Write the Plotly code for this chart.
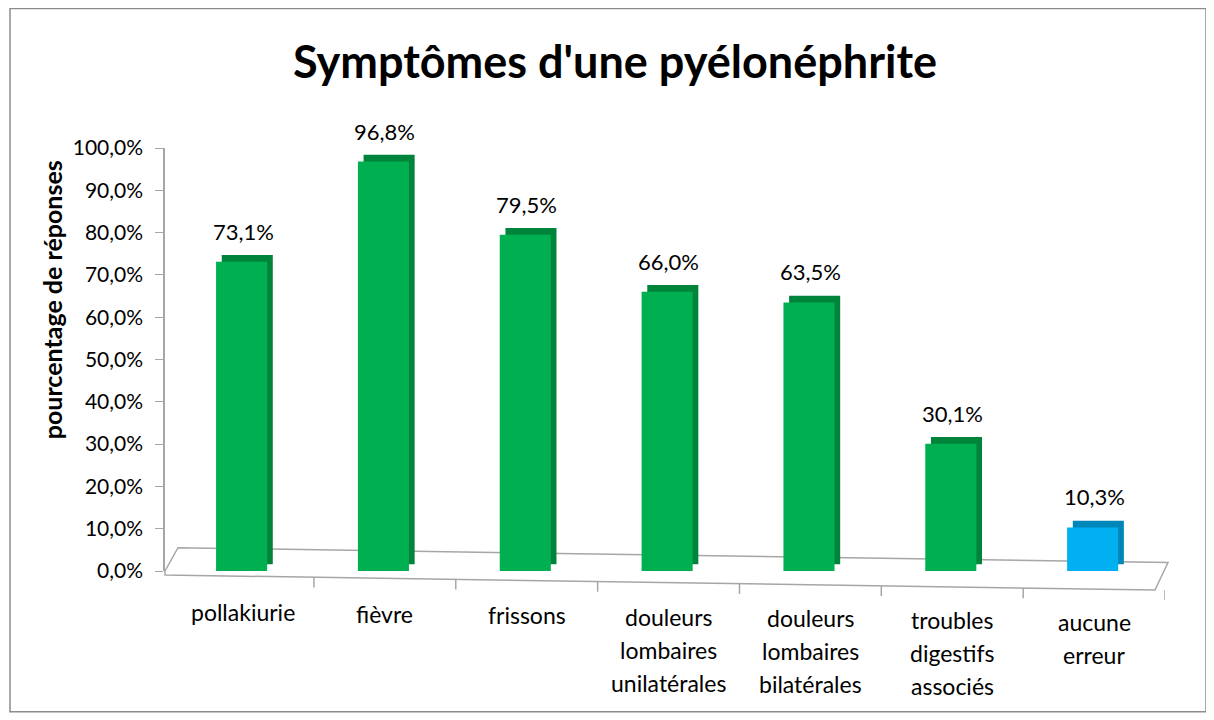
import plotly.graph_objects as go

categories = ["pollakiurie", "fièvre", "frissons",
              "douleurs<br>lombaires<br>unilatérales",
              "douleurs<br>lombaires<br>bilatérales",
              "troubles<br>digestifs<br>associés",
              "aucune<br>erreur"]
values = [0.731, 0.968, 0.795, 0.660, 0.635, 0.301, 0.103]
colors = ["#00b050"] * 6 + ["#00b0f0"]
side_colors = ["#00843c"] * 6 + ["#0086b8"]
tick_vals = [i / 10 for i in range(11)]

font = "Lato, 'Open Sans', sans-serif"
x_idx = list(range(len(categories)))
x_range = [-0.55, 6.5]

fig = go.Figure()
# darker back face gives the pseudo-3D look
fig.add_trace(go.Bar(x=x_idx, y=values, base=0.016, width=0.36, offset=-0.15,
                     marker=dict(color=side_colors, line_width=0),
                     hoverinfo="skip", showlegend=False))
fig.add_trace(go.Bar(x=x_idx, y=values, width=0.36, offset=-0.19,
                     marker=dict(color=colors, line_width=0),
                     showlegend=False))

for i, v in enumerate(values):
    fig.add_annotation(x=i, y=v, text=f"{v * 100:.1f}%".replace(".", ","),
                       showarrow=False, yanchor="bottom", yshift=15,
                       font=dict(size=22, color="#000000", family=font))

# category labels, one annotation per line for Excel-like line spacing
for i, cat in enumerate(categories):
    for j, line in enumerate(cat.split("<br>")):
        fig.add_annotation(x=i, y=0, yref="paper", text=line, showarrow=False,
                           yanchor="middle", yshift=-41 - 1.6 * i - 33 * j,
                           font=dict(size=23, color="#000000", family=font))

# y axis title, placed high like in the original
fig.add_annotation(x=-0.113, y=0.64, xref="paper", yref="paper", textangle=-90,
                   text="<b>pourcentage de réponses</b>", showarrow=False,
                   xanchor="center", yanchor="middle",
                   font=dict(size=25, color="#000000", family=font))


def front_edge(xd):
    xp = (xd - x_range[0]) / (x_range[1] - x_range[0])
    return -0.0095 - xp * 0.0355 / 0.99


# floor outline
fig.add_shape(type="path", xref="paper", yref="paper",
              path="M 0,0 L 0.013,0.055 L 1.003,0.02 L 0.99,-0.045 L 0,-0.0095 Z",
              line=dict(color="#a6a6a6", width=1.5), fillcolor="rgba(0,0,0,0)", layer="below")
# ticks hanging from the slanted front edge
for i in range(len(categories)):
    xb = i + 0.5
    y0 = front_edge(xb)
    fig.add_shape(type="line", xref="x", yref="paper", x0=xb, x1=xb,
                  y0=y0, y1=y0 - 0.024, line=dict(color="#a6a6a6", width=1.5))
# outer border
fig.add_shape(type="rect", xref="paper", yref="paper",
              x0=-0.155, x1=1.041, y0=-0.333, y1=1.33,
              line=dict(color="#8c8c8c", width=1.5))

fig.update_layout(
    width=1214, height=720,
    barmode="overlay",
    separators=", ",
    paper_bgcolor="white", plot_bgcolor="white",
    margin=dict(l=157, r=57, t=140, b=157),
    font=dict(family=font, color="#000000"),
    title=dict(text="<b>Symptômes d'une pyélonéphrite</b>", x=0.5, xanchor="center",
               y=0.925, yanchor="middle", font=dict(size=45, family=font)),
    xaxis=dict(range=x_range, tickvals=x_idx, showticklabels=False,
               showline=False, ticks="", showgrid=False, zeroline=False),
    yaxis=dict(range=[0, 1.0], tickvals=tick_vals, tickformat=".1%",
               showline=True, linecolor="#a6a6a6", linewidth=1.5,
               ticks="outside", ticklen=8, tickcolor="#a6a6a6",
               ticklabelstandoff=8,
               tickfont=dict(size=21), showgrid=False, zeroline=False),
)

fig.write_html("out.html")
